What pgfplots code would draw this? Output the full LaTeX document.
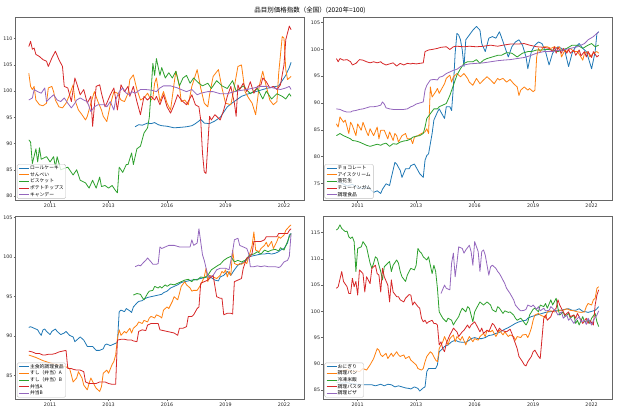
\documentclass[border=0pt]{standalone}
\usepackage{fontspec}
\setmainfont{DejaVu Sans}
\newfontfamily\jp{Noto Sans CJK JP}
\usepackage{pgfplots}
\pgfplotsset{compat=1.18}
\definecolor{c0}{HTML}{1F77B4}
\definecolor{c1}{HTML}{FF7F0E}
\definecolor{c2}{HTML}{2CA02C}
\definecolor{c3}{HTML}{D62728}
\definecolor{c4}{HTML}{9467BD}
\pgfplotsset{panel/.style={
  scale only axis, width=288.5pt, height=183pt, anchor=south west,
  xmin=-7.4, xmax=155.4,
  xtick={12,45,78,111,144}, xticklabels={2011,2013,2016,2019,2022},
  tick pos=left, tick align=outside, major tick length=2pt,
  axis line style={black!60, line width=0.6pt},
  every tick/.style={black!60, line width=0.5pt},
  tick label style={font=\fontsize{4.8}{5}\selectfont, text=black!85},
  xticklabel style={inner sep=1pt},
  yticklabel style={inner sep=1pt},
  /pgf/number format/assume math mode=true,
  every axis plot/.append style={line width=0.8pt, line join=round},
  legend cell align=left,
  legend style={at={(0.004,0.01)}, anchor=south west,
    font=\jp\fontsize{4.8}{5.5}\selectfont,
    draw=black!25, line width=0.4pt, fill=white, fill opacity=0.8, text opacity=1,
    rounded corners=1.5pt, inner xsep=1.5pt, inner ysep=1pt, row sep=0.6pt,
    nodes={inner sep=0.6pt, text height=3.9pt, text depth=0.9pt}},
  legend image code/.code={\draw[#1, line width=0.9pt] (0pt,0pt) -- (10pt,0pt);},
}}
\begin{document}
\begin{tikzpicture}[x=1pt,y=1pt]
\path[use as bounding box] (0,0) rectangle (620,413);
\node[font=\jp\fontsize{6.5}{7}\selectfont] at (310,403) {品目別価格指数（全国）(2020年=100)};

% ---------------- panel 1 ----------------
\begin{axis}[panel, at={(15.7pt,212.3pt)}, ymin=79.1, ymax=114.0, ytick={80,85,...,110}]
\addplot[c0] coordinates {(60,93.2)(62,93.6)(64,93.5)(67,93.9)(69,93.8)(71,94)(73,93.6)(75,93.4)(78,93.3)(82,93)(86,93.1)(89,93.2)(92,93.4)(94,93.8)(96,94.3)(97,94.6)(99,93.9)(102,93.8)(105,94.3)(108,95)(110,96)(112,97)(115,97.8)(118,98.5)(120,99)(124,99.5)(129,100)(134,100.5)(138,100.8)(141,101)(143,102)(145,103)(146,103.8)(147,104.5)(148,105.5)};
\addlegendentry{ロールケーキ}
\addplot[c1] coordinates {(0,103.4)(1,100.9)(2,100.3)(3,100.9)(4,98.3)(6,97.4)(8,97.2)(10,97.7)(11,100.6)(13,100.9)(14,99.9)(15,98.3)(17,97)(19,96.8)(21,97.7)(23,99.3)(25,101.2)(26,98.3)(28,96.4)(30,95.5)(32,94.5)(33,95.2)(35,97.7)(37,99.9)(39,98)(41,96.4)(42,95.2)(44,94.2)(46,97.4)(48,99.9)(50,99.6)(52,98.3)(54,98)(56,99.6)(57,102.2)(59,103.1)(61,100.3)(63,98.3)(65,98.7)(67,99.6)(69,98.3)(70,98.7)(71,101.5)(72,102.5)(74,98)(76,99.9)(78,97.7)(80,96.4)(82,101.5)(83,103.8)(85,100.9)(86,98)(88,98.3)(90,97.4)(92,100.9)(95,104.1)(97,100.6)(99,97.7)(101,97)(102,99.3)(104,102.8)(107,104.1)(109,100.6)(111,97.7)(114,97.4)(116,100.9)(118,104.7)(120,105)(122,99.9)(124,98.7)(126,97.7)(128,95.5)(130,100.9)(132,103.8)(134,100.9)(136,98.3)(138,97.4)(140,98)(141,103.4)(143,110.4)(144,110.1)(145,104.1)(146,102.2)(148,102.8)};
\addlegendentry{せんべい}
\addplot[c2] coordinates {(0,90.7)(1,90.3)(2,86.2)(4,89)(5,86.5)(6,89.2)(7,87)(10,87.5)(12,86.5)(14,87.5)(15,85.5)(16,87.5)(18,85)(22,85.5)(25,84)(27,85)(29,83)(32,82.5)(34,81.5)(36,83)(38,81.5)(40,83.6)(41,81.8)(43,82)(45,81.5)(47,82)(49,81)(50,80.6)(51,85.5)(53,84.5)(55,86)(56,86)(58,88.2)(59,86)(61,89)(63,89.5)(65,92)(67,93)(68,95)(69,100)(70,105.3)(71,103)(72,106.2)(74,103)(75,104.5)(77,102.5)(79,103.5)(81,102.5)(83,103.8)(85,101)(87,102.5)(89,103)(91,101.5)(93,102.5)(96,101.5)(98,101)(101,101.5)(103,100.5)(106,102)(109,101)(112,100.5)(115,102)(117,100)(121,101)(125,99.5)(129,100.5)(132,98.5)(134,100)(137,98.5)(140,99.5)(143,99)(145,98.5)(147,99.5)(148,99)};
\addlegendentry{ビスケット}
\addplot[c3] coordinates {(0,108.5)(1,109.5)(2,108)(3,108.2)(4,107)(6,106.6)(8,106)(10,105.7)(11,104.7)(13,106.3)(15,107.6)(17,106)(19,104.7)(20,100.9)(22,100.6)(24,98)(26,102.5)(27,101.5)(29,99.3)(31,100.3)(33,97.7)(35,99)(36,93.3)(38,100.9)(40,101.2)(41,99.6)(43,97)(44,97.7)(46,99.3)(48,100.6)(50,96.4)(52,101.2)(54,99.9)(56,100.9)(57,99)(59,100.9)(61,98)(63,95.5)(65,99)(67,98.3)(69,99)(71,98.3)(72,99)(74,97.4)(76,99.3)(78,97)(80,95.8)(82,97.4)(84,99.3)(86,98.3)(89,97.4)(92,99.3)(94,97.4)(96,97)(97,94.5)(98,88.2)(99,84.6)(100,84.3)(102,95.2)(103,94.5)(105,95.5)(108,94.5)(110,96.4)(112,99)(114,100.9)(116,97.7)(117,95.2)(118,101.2)(119,100.3)(121,101.5)(123,99.9)(125,101.8)(127,99.6)(129,100.9)(131,101.2)(132,102.5)(134,101.8)(136,100.6)(138,100.9)(140,100.3)(142,101.2)(144,105)(145,109.8)(147,112.4)(148,111.7)};
\addlegendentry{ポテトチップス}
\addplot[c4] coordinates {(0,98.3)(2,98.7)(3,100.3)(5,99.9)(7,99.6)(9,100.6)(10,98)(12,98.7)(14,99.3)(16,98.3)(18,98)(20,98.7)(22,97.7)(24,96.8)(26,97.7)(27,98.3)(29,98.7)(31,98.3)(33,98)(35,96.1)(37,97)(39,97.4)(41,97.4)(43,97.4)(44,97)(46,98)(48,96.4)(49,98.3)(51,99.9)(53,100.6)(55,99.6)(57,99.3)(58,99.9)(60,99.6)(63,100.3)(66,100.3)(69,100.2)(72,99.9)(74,100.6)(76,101)(80,101)(84,100.6)(86,100.3)(89,99.9)(92,100.3)(95,99.3)(97,99.6)(101,99.9)(104,99.9)(108,99.5)(112,99.5)(116,99.9)(119,100.1)(123,100.3)(127,100.6)(131,100.9)(134,100.9)(138,100.6)(142,100.3)(145,100.6)(147,100.9)(148,100.3)};
\addlegendentry{キャンデー}
\end{axis}

% ---------------- panel 2 ----------------
\begin{axis}[panel, at={(323.3pt,212.3pt)}, ymin=71.75, ymax=105.93, ytick={75,80,...,105}]
\addplot[c0] coordinates {(0,75.3)(3,75)(6,74.5)(9,74.8)(12,74.2)(15,74)(17,74.4)(19,73.9)(21,73.3)(23,73.6)(25,73.1)(26,73.9)(28,74.9)(30,74.6)(31,76.1)(33,78.9)(34,78.6)(36,77.4)(37,76.1)(39,77.7)(41,77.7)(42,78.3)(44,78.6)(45,78)(47,76.8)(49,76.1)(50,79.3)(51,80.2)(52,80.5)(54,84.3)(55,86.8)(57,88.3)(58,88.9)(59,88.3)(60,87.7)(61,87.1)(62,89.3)(64,89.3)(65,88.6)(66,93)(67,99.3)(68,103)(69,102.7)(70,101.8)(71,99.9)(72,96.8)(73,101.8)(75,102.7)(77,103.6)(79,104.3)(81,103.6)(82,101.1)(84,99.6)(86,102.1)(88,102.4)(90,102.1)(92,103.3)(93,102.4)(95,100.5)(97,98.6)(99,100.5)(101,101.4)(103,101.8)(105,100.8)(107,98.6)(108,96.4)(110,99.6)(112,100.8)(114,101.4)(116,101.1)(118,99.6)(120,97.1)(122,99.3)(124,100.2)(125,100.5)(127,100.2)(129,99.6)(131,96.8)(133,99.3)(135,100.5)(137,101.1)(139,100.2)(141,99.6)(142,98.6)(144,96.4)(146,99.6)(147,103)(148,103.3)};
\addlegendentry{チョコレート}
\addplot[c1] coordinates {(0,86.1)(1,85.5)(2,87.4)(4,86.4)(5,86.8)(7,84.3)(8,86.4)(9,85.8)(11,83.9)(12,86.1)(14,84.9)(15,86.4)(17,84.6)(18,83.9)(19,85.2)(21,83.9)(23,85.5)(24,83.3)(25,84.9)(27,84.9)(29,83.3)(30,84.6)(32,83)(33,84.3)(34,83.9)(35,82.7)(37,83.9)(39,84.3)(40,83.3)(42,83.3)(43,82.4)(44,83.6)(46,83.9)(48,84.3)(50,84.6)(51,85.2)(52,84.3)(53,93)(54,91.1)(56,92.1)(57,92.7)(58,91.8)(59,92.4)(61,93.6)(62,94.6)(64,95.2)(65,93.9)(66,94.9)(68,95.5)(70,94.9)(72,95.5)(74,94.6)(75,93.9)(77,93.3)(79,94.6)(81,93.6)(83,94.3)(85,94.9)(87,94.3)(89,93.6)(91,94.6)(92,94.3)(94,94.6)(96,93.9)(98,94.4)(100,93.6)(102,93)(103,91.4)(104,92.4)(106,93)(108,92.4)(109,92.7)(111,92.1)(112,92.4)(113,98.6)(114,100.2)(115,99.6)(117,100.5)(119,100.5)(121,100.2)(123,100.5)(125,100.2)(126,100.5)(127,98.6)(129,99.9)(130,99.6)(132,100.2)(134,99.6)(136,99.6)(138,98.6)(139,98)(140,99.3)(142,99.6)(143,98.6)(145,99.3)(147,99.6)(148,99.3)};
\addlegendentry{アイスクリーム}
\addplot[c2] coordinates {(0,83.9)(2,84.3)(4,83.9)(6,83.6)(8,83.3)(9,83)(11,82.9)(13,82.7)(15,82.4)(17,82.1)(19,81.9)(21,82.1)(23,82.3)(25,82.1)(26,82.3)(28,82.5)(30,81.9)(32,82.4)(34,82.3)(36,82.7)(38,82.9)(40,83)(42,83.3)(43,83.6)(45,83.8)(47,83.9)(49,84.3)(50,85.5)(51,87.1)(53,88)(55,88.9)(57,88.9)(58,89.3)(60,89.6)(62,89.9)(64,91.4)(66,93.3)(68,95.2)(70,96.4)(72,97.4)(74,97.7)(75,97.7)(77,97.7)(79,98.1)(81,97.4)(83,98)(85,98.3)(88,98.6)(91,98.9)(93,98.9)(96,99.4)(99,99.3)(102,98.6)(105,99.3)(108,99.6)(110,99.6)(113,99.9)(116,99.9)(119,100)(122,99.9)(125,99.6)(127,99.9)(130,100.2)(133,100.8)(136,100.8)(139,100.2)(142,100.8)(144,101.1)(146,100.5)(148,100.8)};
\addlegendentry{落花生}
\addplot[c3] coordinates {(0,98.3)(1,97.7)(2,98.3)(4,98)(6,98.1)(8,97.7)(9,97.1)(11,97.4)(13,98.1)(15,98)(17,97.7)(19,97.5)(21,97.7)(23,97.5)(25,97.7)(26,97.4)(28,97.1)(30,97.3)(32,97.5)(34,96.9)(36,97.4)(38,97.1)(40,97.4)(42,97.3)(43,97.4)(45,97.3)(47,97.4)(49,97.5)(50,99.6)(52,99.9)(54,100)(57,100.2)(59,100.4)(62,100.5)(64,100)(66,100.5)(68,100.6)(72,100.5)(75,100.6)(79,100.5)(83,100.6)(87,100.8)(91,100.6)(94,100.8)(98,101)(102,101)(106,101.1)(109,100.8)(113,100.5)(117,100.4)(120,100.2)(122,99.6)(123,100.5)(124,99.3)(125,100.4)(127,99.3)(128,100.2)(130,99.3)(131,100)(132,99.3)(134,99.9)(135,98.9)(137,99.9)(138,98.8)(140,99.6)(141,98.6)(142,99.6)(144,98.5)(145,99.6)(147,98.6)(148,98.9)};
\addlegendentry{チューインガム}
\addplot[c4] coordinates {(0,88.9)(2,88.8)(4,88.5)(6,88.3)(8,88.3)(9,88.5)(11,88.6)(13,88.8)(15,88.9)(17,89.1)(19,89.3)(21,89.3)(23,89.4)(25,89.6)(26,90.2)(27,89.8)(28,89.1)(30,88.9)(32,88.8)(34,88.8)(36,88.8)(38,88.8)(40,88.9)(42,89.3)(43,89.4)(45,89.8)(47,90)(49,90.2)(50,92.4)(51,93.3)(53,94.3)(55,94.4)(57,94.3)(58,94.8)(60,95)(62,95.5)(64,95.8)(66,96.1)(68,96.3)(70,96.8)(72,97.1)(75,97.3)(79,97.4)(83,97.5)(87,97.7)(91,97.9)(94,98)(98,98.1)(102,98.3)(106,98.5)(109,98.8)(113,99.3)(117,99.6)(121,99.6)(125,99.8)(128,99.9)(132,100.2)(136,100.5)(140,101.1)(142,101.8)(145,102.4)(147,103)(148,103.3)};
\addlegendentry{調理食品}
\end{axis}

% ---------------- panel 3 ----------------
\begin{axis}[panel, height=182.6pt, at={(15.7pt,13.7pt)}, ymin=82.0, ymax=105.13, ytick={85,90,...,105}]
\addplot[c0] coordinates {(0,91.1)(1,91.2)(3,91)(5,90.8)(6,90.4)(7,90.1)(8,90.8)(9,90.9)(10,90.6)(12,90.2)(13,90.6)(15,90.9)(16,90.6)(18,90.2)(20,90.4)(21,90.6)(23,90.1)(25,89.9)(26,89.3)(27,89.5)(29,89.9)(31,89.5)(33,88.7)(35,88.7)(36,88.7)(38,88.2)(40,88.2)(42,88.4)(43,88.9)(44,89)(46,88.8)(48,89)(50,89.2)(51,93.1)(52,93.3)(54,93.1)(55,93.5)(57,93.2)(58,93)(59,93.7)(61,94.2)(62,94.4)(64,94.5)(65,94.7)(67,94.9)(69,95)(71,95.1)(73,95.2)(75,95.3)(76,95.5)(78,95.7)(80,96.1)(82,96.3)(84,96.5)(86,96.8)(88,96.9)(90,97)(92,97.1)(93,97.1)(95,97.2)(97,97.3)(99,97.4)(101,97.5)(103,97.4)(105,97.1)(107,97)(108,97.5)(110,97.7)(112,98.2)(114,97.7)(116,98.4)(118,99)(120,99.2)(122,99.5)(124,99.9)(125,100.1)(127,100.2)(129,100.3)(131,100.4)(133,100.4)(135,100.5)(137,100.4)(139,100.5)(141,100.7)(142,100.9)(144,101.1)(146,101.8)(147,102.8)(148,103)};
\addlegendentry{主食的調理食品}
\addplot[c1] coordinates {(0,87.6)(4,87.3)(8,86.9)(12,86.6)(16,86.4)(20,86.2)(23,85.9)(24,85.1)(25,84.2)(27,84.7)(28,85.5)(30,84.7)(31,83.8)(33,83.2)(34,84)(35,84.7)(37,83.8)(38,83.4)(40,83)(41,83.6)(42,85.3)(44,85.7)(45,85.3)(47,86.4)(48,86.8)(49,87.6)(50,89.7)(51,90.8)(52,90.1)(54,90.6)(55,90.4)(57,91)(58,90.4)(59,91)(61,91.4)(62,91.8)(64,91.6)(65,92)(67,91.8)(68,92.3)(69,92.5)(71,92.3)(72,92.7)(74,92.5)(75,92.3)(76,93.3)(78,93.7)(79,93.5)(81,94.4)(82,95)(84,94.6)(85,95.4)(86,96.3)(88,96.9)(89,96.5)(91,96.1)(92,95.7)(93,95.8)(95,95.8)(97,96.5)(99,97.5)(100,98.6)(101,96.9)(102,97.7)(104,97.5)(106,97.3)(108,97.7)(109,98.2)(110,98)(111,98.4)(112,97.5)(113,98.2)(114,97.7)(115,100.9)(116,99.2)(118,99)(119,99.2)(120,99.1)(122,99.4)(123,99.2)(125,100.7)(126,101.5)(127,103.2)(128,100.9)(130,100.7)(131,101.1)(133,101.5)(134,101.9)(135,101.3)(137,102)(138,101.1)(140,102)(141,102.6)(142,102.4)(144,102.8)(145,103.4)(147,103.9)(148,104.1)};
\addlegendentry{すし（弁当）A}
\addplot[c2] coordinates {(59,95.2)(61,95.4)(63,95.3)(64,94.9)(65,94.6)(67,95.4)(68,95.7)(70,95.8)(71,96.3)(73,96.1)(74,96.3)(75,96.1)(77,96.5)(78,96.3)(80,96.6)(82,96.5)(84,96.7)(86,96.9)(88,97.1)(90,97.2)(92,96.9)(93,97.2)(95,97.1)(97,97.5)(99,97.4)(101,97.7)(103,98.4)(105,98.7)(107,99)(108,99.1)(110,99.6)(112,99.9)(114,100.1)(116,99.4)(118,99.6)(120,99.4)(122,99.6)(124,100.1)(125,100.3)(127,100.4)(129,100.7)(131,100.4)(133,100.9)(135,100.7)(137,100.9)(139,101)(141,100.8)(142,101.2)(144,100.9)(146,102)(147,102.6)(148,103)};
\addlegendentry{すし（弁当）B}
\addplot[c3] coordinates {(0,88.1)(2,88)(4,87.8)(6,87.8)(8,87.6)(9,87.6)(11,87.7)(13,87.7)(15,87.8)(17,88)(19,88.1)(21,88.2)(22,85.9)(24,85.9)(25,85.8)(27,85.7)(29,85.7)(31,85.5)(32,84.2)(34,84)(36,84)(38,84)(40,84.2)(42,84.2)(43,84.2)(45,84)(47,83.9)(49,83.9)(50,89.5)(52,89.6)(54,89.6)(56,89.5)(58,89.5)(59,89.4)(61,89.3)(62,90.6)(64,90.8)(66,90.7)(67,91.4)(69,91.6)(71,91.6)(73,91.6)(74,90.8)(76,90.7)(78,90.6)(80,90.5)(82,90.4)(84,90.1)(85,91)(87,91)(89,91.2)(90,92.5)(92,92.5)(93,92.7)(95,93.5)(96,93.7)(97,96.7)(99,96.9)(101,97.1)(103,97.5)(104,97.7)(106,95)(108,94.8)(109,94.8)(110,92.7)(112,92.9)(114,92.9)(115,92.8)(116,96.9)(118,97.1)(120,97.3)(121,98.6)(123,99.9)(125,100.1)(126,100.5)(127,102)(129,102)(131,102)(133,102.2)(134,102.6)(136,102.6)(138,102.6)(140,102.6)(141,103)(143,103)(144,103)(146,103)(147,103.4)(148,103.6)};
\addlegendentry{弁当A}
\addplot[c4] coordinates {(60,98.8)(62,99)(63,98.9)(65,99.4)(66,99.6)(67,99.9)(69,99.4)(70,99.1)(72,99.1)(73,99.2)(74,101.3)(75,101.1)(77,101.3)(79,101.5)(82,101.5)(85,101.3)(88,101.3)(91,101.3)(92,102.2)(93,101.5)(95,101.8)(96,103.6)(98,100.3)(99,99.6)(101,97.7)(102,97.5)(104,97.7)(106,98.4)(108,98.6)(109,98.6)(111,98.6)(113,98.4)(115,100.7)(116,102.2)(118,102.4)(119,101.5)(121,101.3)(123,101.1)(124,100.5)(125,98.8)(127,98.8)(129,98.9)(131,98.8)(133,98.9)(135,98.8)(137,98.8)(139,98.8)(141,98.7)(142,98.8)(144,99.4)(146,99.6)(147,100.1)(148,103)};
\addlegendentry{弁当B}
\end{axis}

% ---------------- panel 4 ----------------
\begin{axis}[panel, height=182.6pt, at={(323.3pt,13.7pt)}, ymin=83.23, ymax=118.05, ytick={85,90,...,115}]
\addplot[c0] coordinates {(0,86.5)(3,86.3)(6,86.4)(9,86.2)(12,86.1)(15,86)(18,86)(20,86)(22,85.8)(24,86)(25,86.1)(27,85.8)(29,86.1)(31,86)(33,85.6)(35,85.8)(37,85.6)(39,85.4)(41,85.3)(42,85.2)(44,85.6)(46,85.3)(47,84.8)(49,85.4)(50,85.6)(51,88.5)(52,89.1)(54,89.1)(56,89.1)(57,89.8)(58,92.3)(60,92.9)(61,93.3)(63,93.6)(65,94.2)(67,94.5)(69,94.2)(71,94.1)(73,94.1)(75,94.5)(76,94.8)(78,95)(80,94.8)(82,94.8)(84,95)(86,95.4)(88,95.5)(90,95.8)(92,96)(93,96.2)(95,96.6)(97,96.9)(99,97.3)(101,97.7)(103,98)(105,98.2)(107,98.3)(108,98.7)(110,99)(112,99.2)(114,99.4)(116,99.6)(118,99.8)(120,99.9)(122,100)(124,100.2)(125,100.2)(127,100.2)(129,100.4)(131,100.5)(133,100.2)(135,100.2)(137,100.5)(139,100)(141,99.9)(142,99.8)(144,100)(146,100.2)(147,100.5)(148,100.9)};
\addlegendentry{おにぎり}
\addplot[c1] coordinates {(0,88.2)(3,88.6)(6,88.9)(9,88.4)(11,88.7)(13,88.5)(15,89.1)(17,88.8)(19,89.8)(21,91)(23,92.9)(24,92.6)(25,91.7)(26,91.4)(28,92)(29,91)(31,92)(32,91.4)(34,92.3)(35,91.7)(36,91.4)(38,91.7)(39,91)(41,91.4)(42,90.7)(43,90.4)(45,89.8)(46,89.1)(48,88.8)(49,89.1)(50,90.4)(51,91.4)(53,92.3)(54,92)(56,90.7)(57,90.4)(58,92.9)(60,94.2)(61,95.2)(63,93.6)(64,94.8)(66,95.5)(67,94.2)(68,95.2)(70,94.5)(71,95.2)(73,93.6)(74,94.5)(75,95.2)(77,94.2)(78,94.8)(80,94.5)(81,95.2)(83,95.8)(84,95.2)(85,96.4)(87,96.1)(88,96.4)(90,95.2)(91,95.8)(92,96.4)(94,95.5)(95,96.1)(97,95.2)(98,95.5)(100,95.2)(101,94.5)(102,95.2)(104,95)(105,95.5)(107,95.6)(108,95)(109,95.8)(110,96.8)(111,98.3)(112,99.3)(114,99.6)(115,99.3)(117,99)(118,98.7)(119,99.9)(121,100.1)(123,99.9)(125,100.1)(126,100.2)(128,100.2)(130,100.5)(132,100.2)(134,100.1)(136,99.9)(138,99.8)(140,99.9)(141,100.9)(142,101.5)(144,101.2)(145,102.2)(146,102.5)(147,104.4)(148,104.7)};
\addlegendentry{調理パン}
\addplot[c2] coordinates {(0,115.5)(1,115.8)(2,116.5)(3,115.8)(4,115.5)(5,115.2)(6,115.3)(7,114.2)(8,113.9)(9,114.2)(10,113.3)(11,107.6)(12,112)(14,112.3)(15,113.3)(17,112.3)(18,110.7)(19,109.2)(20,108.2)(21,109.2)(22,110.4)(23,110.1)(24,108.8)(25,107.6)(26,106)(27,108.5)(29,109.2)(30,109.5)(31,107.6)(32,108.8)(34,109.8)(35,109.2)(36,107.6)(37,106.6)(39,105.7)(40,106.9)(41,107.6)(42,108.2)(44,107.9)(45,108.8)(46,112)(47,111.4)(48,111.1)(49,110.4)(50,110.1)(51,109.8)(52,110.4)(53,108.8)(54,107.2)(55,108.8)(56,107.6)(57,104.4)(58,99.9)(59,99.3)(60,98.7)(62,98)(63,98.7)(65,98.3)(66,97.4)(67,98)(69,99)(70,99.9)(71,100.6)(73,99.9)(74,100.9)(75,100.6)(76,99.3)(77,98)(78,99.9)(80,101.2)(81,101.8)(83,101.2)(84,101.5)(85,101.8)(87,101.2)(88,100.3)(90,99.9)(91,100.9)(92,100.6)(94,99.6)(95,100.1)(97,99.8)(98,99.9)(100,99.3)(101,98.7)(102,98.3)(104,98.7)(105,98.3)(107,97.4)(108,98)(109,99.3)(111,100.4)(112,100.6)(114,99.9)(115,101.2)(117,100.9)(118,101.5)(119,100.6)(121,102.2)(122,101.2)(124,102.5)(125,100.6)(126,99.3)(128,99.9)(129,99)(131,99.6)(132,98.7)(134,99.3)(135,97.7)(136,98.3)(137,97.4)(139,99)(140,98)(142,98.3)(143,97.7)(144,98.7)(146,99.6)(147,98)(148,97.1)};
\addlegendentry{冷凍米飯}
\addplot[c3] coordinates {(0,104.4)(1,104.7)(3,107.6)(4,105.7)(6,104.7)(7,103.4)(8,103.4)(9,106.3)(10,104.7)(11,105.7)(12,103.1)(13,107.9)(15,107.2)(16,103.7)(17,106.6)(19,105.3)(20,108.2)(22,108.8)(23,107.2)(24,106.9)(25,103.7)(26,108.2)(27,106.6)(29,105)(30,101.8)(31,106)(32,103.7)(34,102.8)(35,102.8)(36,102.2)(38,101.8)(39,102.5)(41,103.2)(42,103.1)(43,101.2)(44,101.8)(46,100.9)(47,100.6)(48,98.7)(49,98)(50,98.3)(51,97.7)(52,98)(54,98.3)(55,97.7)(56,97.7)(57,97.4)(58,93.6)(59,94.2)(60,92.9)(61,92.3)(62,93.9)(64,95.5)(65,96.1)(66,96.8)(68,96.1)(69,95.2)(71,96.1)(72,96.4)(74,97.4)(75,96.8)(76,97.4)(78,98)(79,97.4)(81,96.1)(82,96.8)(83,95.8)(85,96.4)(86,96.1)(88,97.7)(89,97.4)(91,96.1)(92,96.8)(93,96.4)(95,96.2)(96,96.1)(98,96.6)(99,95.8)(100,94.8)(102,92.9)(103,91.4)(105,90.4)(106,89.8)(107,89.6)(108,90.4)(110,91.4)(111,92.3)(112,92.6)(114,91.4)(115,91)(116,94.8)(117,98.7)(118,99.3)(119,98.3)(121,99)(122,99.9)(124,100.6)(125,102.2)(126,101.2)(128,99.9)(129,99.3)(131,99.9)(132,99)(134,99.3)(135,98.7)(136,99.6)(138,98.3)(139,97.7)(141,98.7)(142,97.7)(143,98.3)(145,97.4)(146,101.2)(147,103.1)(148,104.1)};
\addlegendentry{調理パスタ}
\addplot[c4] coordinates {(59,103.4)(61,105)(62,104.4)(64,104.1)(65,109.2)(66,111.1)(67,106.6)(68,109.2)(69,112.3)(71,112)(72,111.1)(73,111.7)(75,112.6)(76,111.4)(77,108.8)(78,113.3)(80,111.4)(81,107.6)(82,111.4)(83,111.7)(84,110.7)(86,106.9)(87,108.5)(88,108.8)(90,108.2)(91,107.6)(92,107.2)(93,106.6)(95,105.3)(96,104.4)(98,103.4)(99,102.8)(100,102.2)(101,101.2)(103,100.4)(104,100.1)(106,100.2)(107,100.4)(108,101.2)(110,100.9)(111,101.2)(113,100.4)(114,100.9)(115,100.1)(117,100.6)(118,100.1)(120,100.2)(121,100.9)(122,100.6)(124,99.9)(125,99.3)(127,99.9)(128,98.7)(130,99.3)(131,98.3)(132,98.7)(134,97.7)(135,98.3)(137,99)(138,98)(140,98.3)(141,97.5)(142,98.7)(144,97.4)(145,98.3)(147,99.3)(148,100.1)};
\addlegendentry{調理ピザ}
\end{axis}
\end{tikzpicture}
\end{document}
